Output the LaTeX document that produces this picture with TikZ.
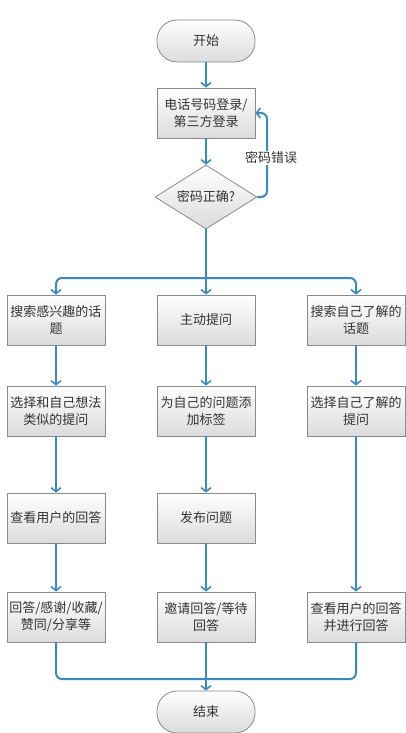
\documentclass[tikz,border=0pt]{standalone}
\usepackage{fontspec}
\setmainfont{Noto Sans CJK SC}
\usetikzlibrary{shapes.geometric,arrows.meta}
\definecolor{flow}{HTML}{3A8AC2}
\definecolor{edge}{HTML}{8A8A8A}
\definecolor{txt}{HTML}{333333}
\tikzset{
  proc/.style={draw=edge,line width=0.8pt,top color=white,bottom color=black!14,
    minimum width=98pt,minimum height=50pt,inner sep=2pt,align=center,
    text width=94pt,font=\fontsize{13pt}{17pt}\selectfont,text=txt},
  term/.style={draw=edge,line width=0.8pt,top color=white,bottom color=black!14,
    minimum width=98pt,minimum height=42pt,rounded corners=20pt,
    font=\fontsize{13pt}{17pt}\selectfont,text=txt},
  dec/.style={diamond,draw=edge,line width=0.8pt,top color=white,bottom color=black!14,
    minimum width=102pt,minimum height=64pt,inner sep=0pt,aspect=1.6,
    font=\fontsize{13pt}{17pt}\selectfont,text=txt},
  conn/.style={draw=flow,line width=2pt,rounded corners=6pt},
  arr/.style={conn,-{Straight Barb[length=4pt,width=10pt,line width=1.6pt]}}
}
\begin{document}
\begin{tikzpicture}[x=1pt,y=-1pt]
\useasboundingbox[fill=white] (0,0) rectangle (406,733);
\node[term] (start) at (206,41) {开始};
\node[proc] (login) at (206,113) {电话号码登录/\\第三方登录};
\node[dec] (check) at (206,197) {密码正确?};
\coordinate (split) at (206,278);
\coordinate (loopa) at (267,197);
\coordinate (loopb) at (267,113);
\coordinate (merge) at (206,679);

\node[proc] (a1) at (56,320) {搜索感兴趣的话\\题};
\node[proc] (a2) at (56,411) {选择和自己想法\\类似的提问};
\node[proc] (a3) at (56,518) {查看用户的回答};
\node[proc] (a4) at (56,617) {回答/感谢/收藏/\\赞同/分享等};

\node[proc] (b1) at (206,320) {主动提问};
\node[proc] (b2) at (206,411) {为自己的问题添\\加标签};
\node[proc] (b3) at (206,518) {发布问题};
\node[proc] (b4) at (206,617) {邀请回答/等待\\回答};

\node[proc] (c1) at (356,320) {搜索自己了解的\\话题};
\node[proc] (c2) at (356,411) {选择自己了解的\\提问};
\node[proc] (c4) at (356,617) {查看用户的回答\\并进行回答};

\node[term] (stop) at (206,712) {结束};

\draw[arr] (start) -- (login);
\draw[arr] (login) -- (check);
\draw[arr] (check.east) -- (loopa) -- (loopb) -- (login.east);
\node[fill=white,inner sep=1pt,font=\fontsize{13pt}{17pt}\selectfont,text=txt] (err) at (271,158) {密码错误};

\draw[arr] (check.south) -- (b1.north);
\draw[arr] (split) -| (a1.north);
\draw[arr] (split) -| (c1.north);

\draw[arr] (a1) -- (a2);
\draw[arr] (a2) -- (a3);
\draw[arr] (a3) -- (a4);
\draw[arr] (b1) -- (b2);
\draw[arr] (b2) -- (b3);
\draw[arr] (b3) -- (b4);
\draw[arr] (c1) -- (c2);
\draw[arr] (c2) -- (c4);

\draw[conn] (a4.south) |- (merge);
\draw[conn] (c4.south) |- (merge);
\draw[arr] (b4.south) -- (stop.north);
\end{tikzpicture}
\end{document}
